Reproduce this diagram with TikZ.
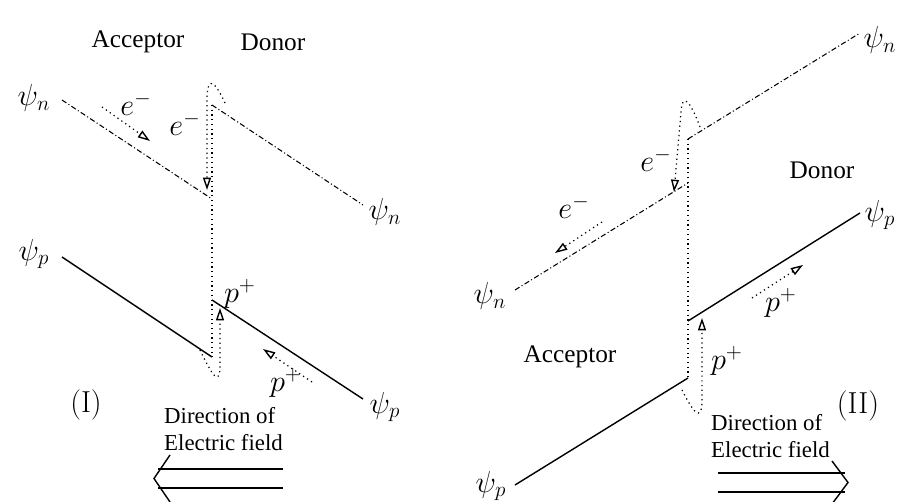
\documentclass[tikz,border=0pt]{standalone}
\usepackage[no-math]{fontspec}
\setmainfont{Liberation Serif}
\usetikzlibrary{arrows.meta}
\tikzset{
  band/.style={line width=0.8pt},
  lumo/.style={line width=0.6pt,dash pattern=on 3pt off 1.4pt on 0.6pt off 1.4pt},
  hop/.style={line width=0.7pt,dash pattern=on 0.7pt off 2pt},
  flow/.style={hop,-{Triangle[open,length=7pt,width=4.5pt,line width=0.8pt]}},
  field/.style={line width=0.8pt},
  lab/.style={font=\fontsize{17.28}{20}\selectfont},
  twoline/.style={align=left,anchor=west,font=\fontsize{13}{15.5}\selectfont}
}

\begin{document}
\begin{tikzpicture}[x=0.2mm,y=-0.2mm,font=\fontsize{14.4}{17}\selectfont]
\useasboundingbox (0,0) rectangle (900,502);

% ---- (I) ----
\begin{scope}
\coordinate (nA1) at (62,100);
\coordinate (nA2) at (212,199);
\coordinate (nD1) at (212,105);
\coordinate (nD2) at (363,205);
\coordinate (pA1) at (62,257);
\coordinate (pA2) at (212,357);
\coordinate (pD1) at (212,300);
\coordinate (pD2) at (363,399);
\draw[lumo] (nA1) -- (nA2);
\draw[lumo] (nD1) -- (nD2);
\draw[band] (pA1) -- (pA2);
\draw[band] (pD1) -- (pD2);
\draw[hop] (nD1) -- (pA2);
%\draw[hop] (nA2) -- (pD1);
\coordinate (eI0) at (225,103);
\coordinate (eI1) at (207,190);
\draw[flow] (eI0) .. controls (212,75) and (207,80) .. (207,100) -- (eI1);
\coordinate (hI0) at (200,350);
\coordinate (hI1) at (220,308);
\draw[flow] (hI0) .. controls (212,375) and (220,388) .. (220,365) -- (hI1);
\coordinate (eI2) at (102,107);
\coordinate (eI3) at (150,141);
\draw[flow] (eI2) -- (eI3);
\coordinate (hI2) at (312,382);
\coordinate (hI3) at (263,349);
\draw[flow] (hI2) -- (hI3);

\draw(138,42) node (accI) {Acceptor};
\draw(273,42) node (donI) {Donor};
\draw(34,98) node[lab] (psinI) {$\psi_n$};
\draw(34,254) node[lab] (psipI) {$\psi_p$};
\draw(385,212) node[lab] (psinI2) {$\psi_n$};
\draw(385,407) node[lab] (psipI2) {$\psi_p$};
\draw(136,104) node[lab] (eI) {$e^-$};
\draw(185,124) node[lab] (eI2l) {$e^-$};
\draw(240,294) node[lab] (hI) {$p^+$};
\draw(286,383) node[lab] (hI2l) {$p^+$};
\draw(86,405) node[lab] (numI) {$(\mathrm{I})$};
\draw(158,429) node[twoline] (efI) {Direction of\\Electric field};

\coordinate (fI0) at (283,469);
\coordinate (fI1) at (158,469);
\coordinate (fI2) at (283,488);
\coordinate (fI3) at (158,488);
\draw[field] (fI0) -- (fI1);
\draw[field] (fI2) -- (fI3);
\draw[field] (170,455) -- (154,478.5) -- (170,502);
\end{scope}

% ---- (II) ----
\begin{scope}
\coordinate (nA1) at (515,290);
\coordinate (nA2) at (688,183);
\coordinate (nD1) at (688,139);
\coordinate (nD2) at (860,33);
\coordinate (pA1) at (515,485);
\coordinate (pA2) at (688,378);
\coordinate (pD1) at (688,321);
\coordinate (pD2) at (860,213);
\draw[lumo] (nA1) -- (nA2);
\draw[lumo] (nD1) -- (nD2);
\draw[band] (pA1) -- (pA2);
\draw[band] (pD1) -- (pD2);
\draw[hop] (nD1) -- (pA2);
\coordinate (eII0) at (700,127);
\coordinate (eII1) at (674,192);
\draw[flow] (eII0) .. controls (690,100) and (682,92) .. (681,112) -- (eII1);
\coordinate (hII0) at (682,390);
\coordinate (hII1) at (702,318);
\draw[flow] (hII0) .. controls (692,410) and (702,425) .. (702,400) -- (hII1);
\coordinate (eII2) at (602,222);
\coordinate (eII3) at (555,253);
\draw[flow] (eII2) -- (eII3);
\coordinate (hII2) at (752,298);
\coordinate (hII3) at (803,265);
\draw[flow] (hII2) -- (hII3);

\draw(822,170) node (donII) {Donor};
\draw(570,357) node (accII) {Acceptor};
\draw(880,40) node[lab] (psinII) {$\psi_n$};
\draw(880,215) node[lab] (psipII) {$\psi_p$};
\draw(490,296) node[lab] (psinII2) {$\psi_n$};
\draw(491,486) node[lab] (psipII2) {$\psi_p$};
\draw(656,160) node[lab] (eII) {$e^-$};
\draw(574,207) node[lab] (eII2l) {$e^-$};
\draw(727,361) node[lab] (hII) {$p^+$};
\draw(781,303) node[lab] (hII2l) {$p^+$};
\draw(858,406) node[lab] (numII) {$(\mathrm{II})$};
\draw(705,436) node[twoline] (efII) {Direction of\\Electric field};

\coordinate (fII0) at (718,473);
\coordinate (fII1) at (845,473);
\coordinate (fII2) at (718,492);
\coordinate (fII3) at (845,492);
\draw[field] (fII0) -- (fII1);
\draw[field] (fII2) -- (fII3);
\draw[field] (832,461) -- (848,482.5) -- (832,504);
\end{scope}
\end{tikzpicture}
\end{document}
